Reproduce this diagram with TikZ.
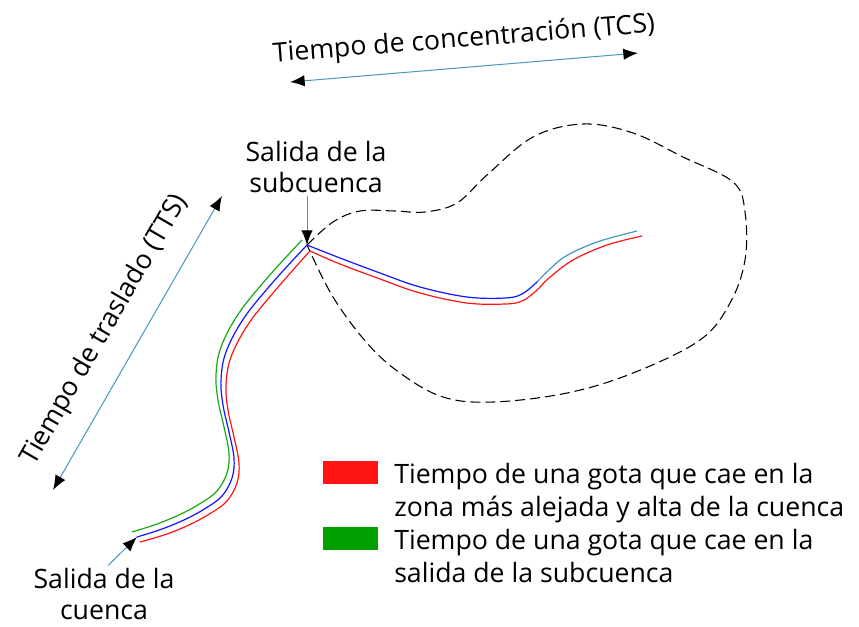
\documentclass[tikz,border=0pt]{standalone}
\usepackage{fontspec}
\setmainfont{Open Sans}
\usetikzlibrary{arrows.meta}
\definecolor{pointerblue}{RGB}{70,150,190}
\definecolor{riverred}{RGB}{255,20,20}
\definecolor{riverblue}{RGB}{20,20,255}
\definecolor{rivergreen}{RGB}{20,170,20}
\definecolor{keygreen}{RGB}{0,160,0}
\tikzset{
  label/.style={align=center, inner sep=2pt, font=\fontsize{20}{23}\selectfont},
  keytext/.style={anchor=base west, inner sep=0pt, font=\fontsize{20}{24.75}\selectfont},
  keybox/.style={minimum width=41.25pt, minimum height=17.25pt, inner sep=0pt},
  pointer/.style={draw=pointerblue, line width=0.75pt, -{Latex[black, length=11pt, width=8.5pt]}},
  span/.style={draw=pointerblue, line width=0.75pt, {Latex[black, length=11pt, width=8.5pt]}-{Latex[black, length=11pt, width=8.5pt]}},
  divide/.style={line width=0.8pt, dash pattern=on 7.5pt off 3.75pt},
  redriver/.style={riverred, line width=0.9pt},
  blueriver/.style={riverblue, line width=0.9pt},
  greenriver/.style={rivergreen, line width=0.9pt},
  headriver/.style={pointerblue, line width=0.9pt}
}
\begin{document}
\begin{tikzpicture}[x=0.75pt, y=-0.75pt]
  \useasboundingbox (0,0) rectangle (859,626);

  \coordinate (subout) at (307,245);
  \coordinate (cueout) at (137,537);
  \coordinate (tcsL) at (290,82);
  \coordinate (tcsR) at (638,53);
  \coordinate (ttsB) at (53,490);
  \coordinate (ttsT) at (222,196);

  \node[label, rotate=4.5] (tcs) at (464,40) {Tiempo de concentración (TCS)};
  \node[label, rotate=60] (tts) at (105,330) {Tiempo de traslado (TTS)};
  \node[label] (sublabel) at (316,167) {Salida de la\\subcuenca};
  \node[label] (cuelabel) at (104,594) {Salida de la\\cuenca};

  \draw[divide] plot[smooth, tension=0.6] coordinates {(307,245) (333,222) (360,211) (395,211) (425,212) (457,203) (487,175) (533,137) (583,124) (633,133) (683,157) (733,182) (745,212) (745,260) (730,303) (700,340) (633,373) (567,393) (493,402) (443,397) (400,373) (367,343) (333,297) (307,245)};

  \draw[greenriver, shift={(-5,-5)}] plot[smooth, tension=0.6] coordinates {(137,537) (162,529) (186,519) (206,508) (222,496) (232,478) (234,458) (229,432) (223,405) (221,380) (226,352) (244,318) (274,281) (307,245)};
  \draw[blueriver] plot[smooth, tension=0.6] coordinates {(137,537) (162,529) (186,519) (206,508) (222,496) (232,478) (234,458) (229,432) (223,405) (221,380) (226,352) (244,318) (274,281) (307,245)};
  \draw[redriver] plot[smooth, tension=0.6] coordinates {(140,542) (167,534) (191,524) (211,513) (227,501) (237,483) (239,463) (234,437) (228,410) (226,385) (231,357) (249,323) (279,286) (309,252)};

  \draw[blueriver] plot[smooth, tension=0.6] coordinates {(307,245) (340,258) (380,273) (420,287) (467,297) (505,298) (522,294) (537,282)};
  \draw[headriver] plot[smooth, tension=0.6] coordinates {(537,282) (550,269) (566,256) (597,242) (637,231)};
  \draw[redriver] plot[smooth, tension=0.6] coordinates {(310,251) (340,264) (380,279) (420,293) (467,303) (505,304) (522,301) (536,291) (549,278) (573,260) (607,245) (642,236)};

  \draw[span] (tcsL) -- (tcsR);
  \draw[span] (ttsB) -- (ttsT);
  \draw[pointer] (sublabel.south -| subout) -- (subout);
  \draw[pointer] ([xshift=3pt]cuelabel.north) -- (cueout);

  \node[keybox, fill=riverred] (keyred) at (350.5,472.5) {};
  \node[keybox, fill=keygreen] (keygreen) at (350.5,538.5) {};
  \node[keytext] (keyred1) at (394,483) {Tiempo de una gota que cae en la};
  \node[keytext] (keyred2) at (394,516) {zona más alejada y alta de la cuenca};
  \node[keytext] (keygreen1) at (394,549) {Tiempo de una gota que cae en la};
  \node[keytext] (keygreen2) at (394,582) {salida de la subcuenca};
\end{tikzpicture}
\end{document}
